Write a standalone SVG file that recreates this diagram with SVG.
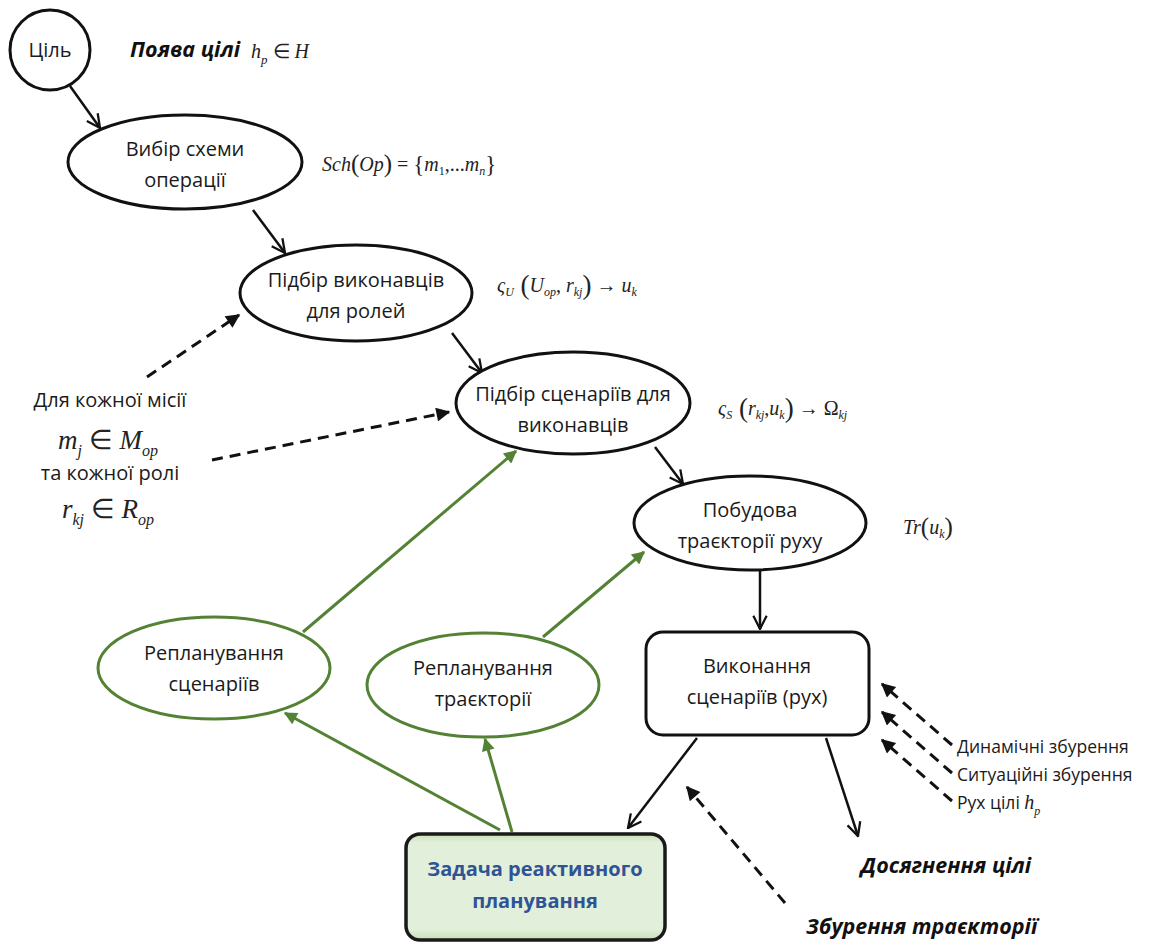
<svg xmlns="http://www.w3.org/2000/svg" width="1161" height="945" viewBox="0 0 1161 945">
<style>
.lbl{font-family:"Open Sans","Liberation Sans",sans-serif;font-size:20px;fill:#1a1a1a;text-anchor:middle}
.side{font-family:"Open Sans","Liberation Sans",sans-serif;font-size:17.5px;fill:#1a1a1a}
.bi{font-family:"Open Sans","Liberation Sans",sans-serif;font-size:21.5px;font-weight:bold;font-style:italic;fill:#111}
.m{font-family:"Liberation Serif","Times New Roman",serif;font-style:italic;font-size:20px;fill:#222}
.big{font-size:27px}
.up{font-style:normal}
.node{fill:#fff;stroke:#111;stroke-width:3}
.gnode{fill:#fff;stroke:#548235;stroke-width:3}
.ln{stroke:#111;stroke-width:2.5;fill:none}
.dash{stroke:#111;stroke-width:3;fill:none;stroke-dasharray:11 7}
.gln{stroke:#548235;stroke-width:3;fill:none}
</style>
<defs>
<marker id="open" viewBox="0 0 12 12" refX="11" refY="6" markerWidth="16" markerHeight="16" markerUnits="userSpaceOnUse" orient="auto">
<path d="M1,1 L11,6 L1,11" fill="none" stroke="#111" stroke-width="1.7"/>
</marker>
<marker id="tri" viewBox="0 0 10 10" refX="9" refY="5" markerWidth="16" markerHeight="14" markerUnits="userSpaceOnUse" orient="auto">
<path d="M0,0 L10,5 L0,10 Z" fill="#111"/>
</marker>
<marker id="gtri" viewBox="0 0 10 10" refX="9" refY="5" markerWidth="15" markerHeight="13" markerUnits="userSpaceOnUse" orient="auto">
<path d="M0,0 L10,5 L0,10 Z" fill="#548235"/>
</marker>
<linearGradient id="gfill" x1="0" y1="0" x2="0" y2="1">
<stop offset="0" stop-color="#c5e0b4"/>
<stop offset="0.08" stop-color="#e2efda"/>
<stop offset="0.9" stop-color="#e2efda"/>
<stop offset="1" stop-color="#c5e0b4"/>
</linearGradient>
</defs>
<rect width="1161" height="945" fill="#fff"/>

<g id="connectors">
<line class="ln" x1="70" y1="86" x2="100" y2="128" marker-end="url(#open)"/>
<line class="ln" x1="253" y1="210" x2="285" y2="253" marker-end="url(#open)"/>
<line class="ln" x1="452" y1="333" x2="482" y2="373" marker-end="url(#open)"/>
<line class="ln" x1="655" y1="447" x2="683" y2="484" marker-end="url(#open)"/>
<line class="ln" x1="760" y1="570" x2="760" y2="629" marker-end="url(#open)"/>
<line class="ln" x1="697" y1="738" x2="628" y2="828" marker-end="url(#open)"/>
<line class="ln" x1="826" y1="738" x2="858" y2="836" marker-end="url(#open)"/>
<line class="dash" x1="147" y1="377" x2="239" y2="315" marker-end="url(#tri)"/>
<line class="dash" x1="212" y1="460" x2="449" y2="412" marker-end="url(#tri)"/>
<line class="dash" x1="785" y1="903" x2="687" y2="787" marker-end="url(#tri)"/>
<line class="dash" x1="952" y1="745" x2="882" y2="684" marker-end="url(#tri)"/>
<line class="dash" x1="952" y1="773" x2="882" y2="712" marker-end="url(#tri)"/>
<line class="dash" x1="952" y1="801" x2="882" y2="740" marker-end="url(#tri)"/>
<line class="gln" x1="303" y1="632" x2="516" y2="451" marker-end="url(#gtri)"/>
<line class="gln" x1="543" y1="637" x2="644" y2="552" marker-end="url(#gtri)"/>
<line class="gln" x1="500" y1="830" x2="285" y2="713" marker-end="url(#gtri)"/>
<line class="gln" x1="512" y1="832" x2="485" y2="739" marker-end="url(#gtri)"/>
</g>

<g id="n-goal">
<circle class="node" cx="50" cy="50" r="40"/>
<text class="lbl" x="50" y="57">Ціль</text>
</g>
<g id="n-scheme">
<ellipse class="node" cx="185" cy="162" rx="117" ry="47"/>
<text class="lbl" x="185" y="156">Вибір схеми</text>
<text class="lbl" x="185" y="187">операції</text>
</g>
<g id="n-executors">
<ellipse class="node" cx="356" cy="293" rx="116" ry="48"/>
<text class="lbl" x="356" y="287">Підбір виконавців</text>
<text class="lbl" x="356" y="318">для ролей</text>
</g>
<g id="n-scenarios">
<ellipse class="node" cx="573" cy="403" rx="117" ry="51"/>
<text class="lbl" x="573" y="401">Підбір сценаріїв для</text>
<text class="lbl" x="573" y="432">виконавців</text>
</g>
<g id="n-trajectory">
<ellipse class="node" cx="750" cy="523" rx="116" ry="47"/>
<text class="lbl" x="750" y="517">Побудова</text>
<text class="lbl" x="750" y="548">траєкторії руху</text>
</g>
<g id="n-execution">
<rect class="node" x="646" y="632" width="223" height="103" rx="17"/>
<text class="lbl" x="757" y="673">Виконання</text>
<text class="lbl" x="757" y="704">сценаріїв (рух)</text>
</g>
<g id="n-replan-scen">
<ellipse class="gnode" cx="214" cy="668" rx="116" ry="51"/>
<text class="lbl" x="214" y="660">Репланування</text>
<text class="lbl" x="214" y="691">сценаріїв</text>
</g>
<g id="n-replan-traj">
<ellipse class="gnode" cx="483" cy="685" rx="116" ry="52"/>
<text class="lbl" x="483" y="675">Репланування</text>
<text class="lbl" x="483" y="706">траєкторії</text>
</g>
<g id="n-reactive">
<rect x="406" y="834" width="259" height="106" rx="14" fill="url(#gfill)" stroke="#1a1a1a" stroke-width="3.5"/>
<text x="535" y="876" text-anchor="middle" font-family="'Open Sans','Liberation Sans',sans-serif" font-size="20" font-weight="bold" fill="#2f5496">Задача реактивного</text>
<text x="535" y="908" text-anchor="middle" font-family="'Open Sans','Liberation Sans',sans-serif" font-size="20" font-weight="bold" fill="#2f5496">планування</text>
</g>

<g id="labels">
<text class="bi" x="130" y="57">Поява цілі</text>
<text class="m" x="251" y="58">h<tspan font-size="13" dy="6">p</tspan><tspan dy="-6" class="up"> ∈ </tspan>H</text>

<text class="m" x="322" y="171">Sch<tspan class="up" font-size="25" dy="1">(</tspan><tspan dy="-1">Op</tspan><tspan class="up" font-size="25" dy="1">)</tspan><tspan class="up" dy="-1"> = </tspan><tspan class="up" font-size="23" dy="1">{</tspan><tspan dy="-1">m</tspan><tspan class="up" font-size="12" dy="4">1</tspan><tspan class="up" dy="-4">,...</tspan>m<tspan font-size="12" dy="4">n</tspan><tspan class="up" font-size="23" dy="-3">}</tspan></text>

<text class="m" x="497" y="292">ς<tspan font-size="12" dy="4">U</tspan><tspan class="up" font-size="27" dy="-2"> (</tspan><tspan dy="-2">U</tspan><tspan font-size="12" dy="4">op</tspan><tspan class="up" dy="-4">, </tspan>r<tspan font-size="12" dy="4">kj</tspan><tspan class="up" font-size="27" dy="-2">)</tspan><tspan class="up" dy="-2"> → </tspan>u<tspan font-size="12" dy="4">k</tspan></text>

<text class="m" x="718" y="415">ς<tspan font-size="12" dy="4">S</tspan><tspan class="up" font-size="27" dy="-2"> (</tspan><tspan dy="-2">r</tspan><tspan font-size="12" dy="4">kj</tspan><tspan class="up" dy="-4">,</tspan>u<tspan font-size="12" dy="4">k</tspan><tspan class="up" font-size="27" dy="-2">)</tspan><tspan class="up" dy="-2"> → Ω</tspan><tspan font-size="12" dy="4">kj</tspan></text>

<text class="m" x="903" y="534">Tr<tspan class="up" font-size="25" dy="1">(</tspan><tspan dy="-1">u</tspan><tspan font-size="12" dy="4">k</tspan><tspan class="up" font-size="25" dy="-3">)</tspan></text>

<text class="lbl" x="110" y="407">Для кожної місії</text>
<text class="m big" x="108" y="449" text-anchor="middle">m<tspan font-size="16" dy="7">j</tspan><tspan class="up" dy="-7"> ∈ </tspan>M<tspan font-size="16" dy="7">op</tspan></text>
<text class="lbl" x="110" y="480">та кожної ролі</text>
<text class="m big" x="108" y="518" text-anchor="middle">r<tspan font-size="16" dy="7">kj</tspan><tspan class="up" dy="-7"> ∈ </tspan>R<tspan font-size="16" dy="7">op</tspan></text>

<text class="side" x="957" y="753">Динамічні збурення</text>
<text class="side" x="957" y="781">Ситуаційні збурення</text>
<text class="side" x="957" y="809">Рух цілі <tspan class="m" font-size="18">h<tspan font-size="12" dy="6">p</tspan></tspan></text>

<text class="bi" x="946" y="873" text-anchor="middle">Досягнення цілі</text>
<text class="bi" x="806" y="934">Збурення траєкторії</text>
</g>
</svg>
